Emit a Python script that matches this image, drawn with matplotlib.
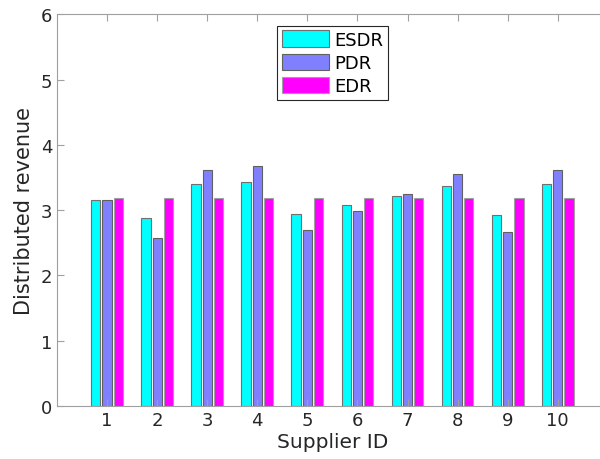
import numpy as np
import matplotlib
matplotlib.use('Agg')
import matplotlib.pyplot as plt

supplier = np.arange(1, 11)
esdr = [3.16, 2.88, 3.40, 3.43, 2.94, 3.08, 3.22, 3.37, 2.93, 3.40]
pdr = [3.15, 2.58, 3.62, 3.68, 2.70, 2.99, 3.24, 3.56, 2.67, 3.62]
edr = [3.18, 3.18, 3.18, 3.18, 3.18, 3.18, 3.18, 3.18, 3.18, 3.18]

fig = plt.figure(figsize=(6, 4.6), dpi=100)
# axes run a bit past the right edge, like the cropped original
ax = fig.add_axes([0.095, 0.115, 0.918, 0.852])

w = 0.185
step = 0.225
ax.bar(supplier - step, esdr, w, color='#00ffff', edgecolor='#707070', linewidth=0.8, label='ESDR')
ax.bar(supplier, pdr, w, color='#8080ff', edgecolor='#606060', linewidth=0.8, label='PDR')
ax.bar(supplier + step, edr, w, color='#ff00ff', edgecolor='#a0a0a0', linewidth=0.8, label='EDR')

ax.set_xlim(0, 11)
ax.set_ylim(0, 6)
ax.set_xticks(supplier)
ax.set_yticks(range(0, 7))
ax.tick_params(direction='in', labelsize=13, length=5, color='#a0a0a0',
               labelcolor='#262626', top=True, right=False)
for s in ax.spines.values():
    s.set_color('#a0a0a0')
    s.set_linewidth(0.8)
ax.spines['right'].set_visible(False)
ax.set_xlabel('Supplier ID', fontsize=14.5, color='#262626', labelpad=2)
ax.set_ylabel('Distributed revenue', fontsize=15, color='#262626', labelpad=5)

leg = ax.legend(loc='upper center', bbox_to_anchor=(0.5, 0.97), fontsize=13,
                fancybox=False, edgecolor='#262626', framealpha=1,
                handlelength=2.6, handleheight=1.05, borderpad=0.25, labelspacing=0.25,
                handletextpad=0.3, borderaxespad=0)
leg.get_frame().set_linewidth(0.8)

plt.savefig('out.png')
